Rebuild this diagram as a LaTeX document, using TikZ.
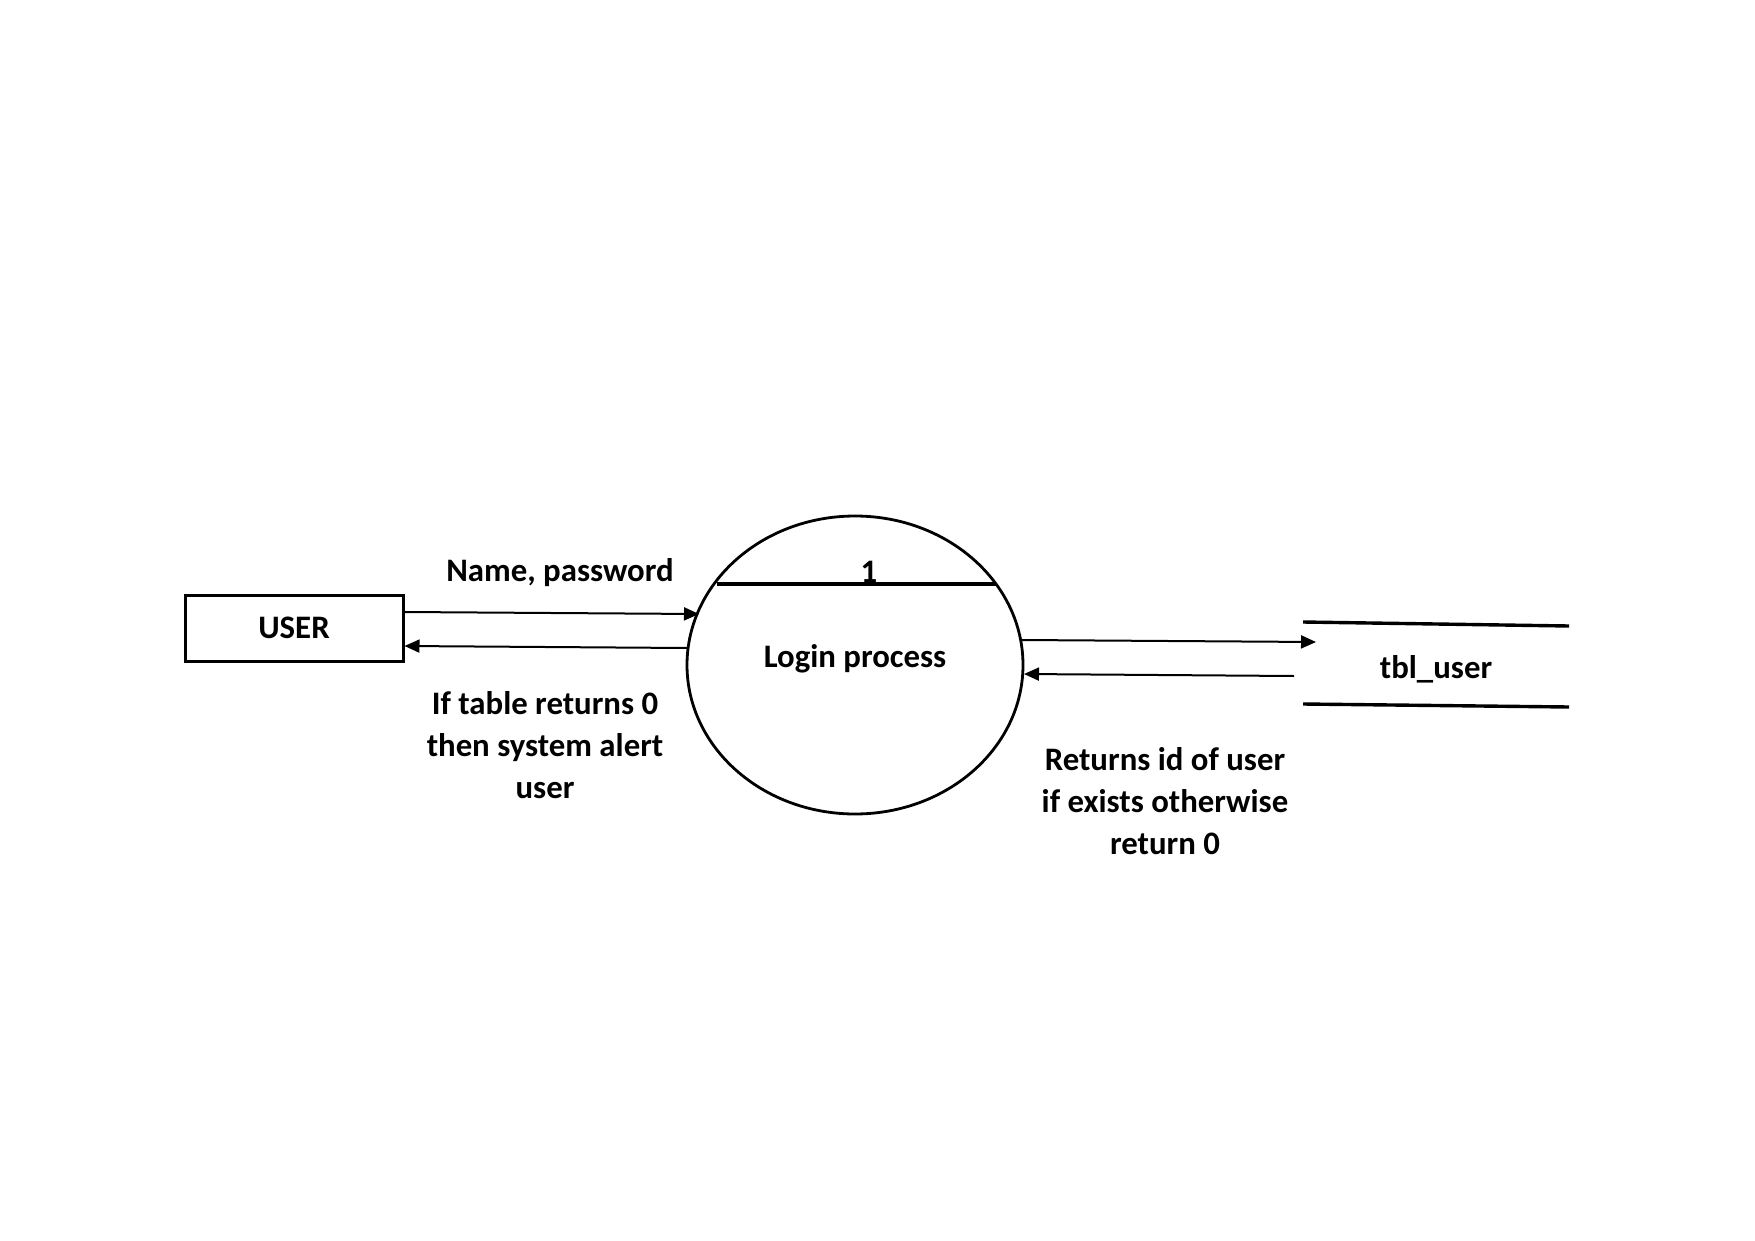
\documentclass[tikz,border=0pt]{standalone}
\usepackage{fontspec}
\setmainfont{Carlito}
\usetikzlibrary{arrows.meta,calc,shapes.geometric}
\begin{document}
\begin{tikzpicture}[x=0.5pt,y=-0.5pt,
  every node/.style={font=\fontsize{16.4}{21}\selectfont\bfseries},
  entity/.style={draw,line width=1.5pt,minimum width=109pt,minimum height=33pt,inner sep=0pt},
  process/.style={draw,ellipse,line width=1.4pt,minimum width=168pt,minimum height=149pt,inner sep=0pt},
  flow/.style={line width=1pt,-{Triangle[length=7.5pt,width=6.5pt]}},
  storeline/.style={line width=1.7pt},
  lbl/.style={align=center,inner sep=0pt}]
\useasboundingbox (0,0) rectangle (1755,1241);
\node[entity] (user) at (294,628) {USER};
\node[process] (proc) at (855,665) {};
\draw[line width=1.7pt] (717,584) -- (996,584);
\node[anchor=base] (num) at (869,582) {1};
\node (title) at (855,659) {Login process};
\node (store) at (1436,669) {tbl\_user};
\coordinate (st1) at (1303,622); \coordinate (st2) at (1569,626);
\coordinate (sb1) at (1303,704); \coordinate (sb2) at (1569,707);
\draw[storeline] (st1) -- (st2);
\draw[storeline] (sb1) -- (sb2);
\draw[flow] ($(user.east)+(0,-16)$) -- (699,614);
\draw[flow] (687,648) -- ($(user.east)+(0,18)$);
\draw[flow] (1022,640) -- (1316,642);
\draw[flow] (1294,676) -- (1024,674);
\node[lbl] (l1) at (560,573) {Name, password};
\node[lbl] (l2) at (545,745) {If table returns 0\\then system alert\\user};
\node[lbl] (l3) at (1165,801) {Returns id of user\\if exists otherwise\\return 0};
\end{tikzpicture}
\end{document}
